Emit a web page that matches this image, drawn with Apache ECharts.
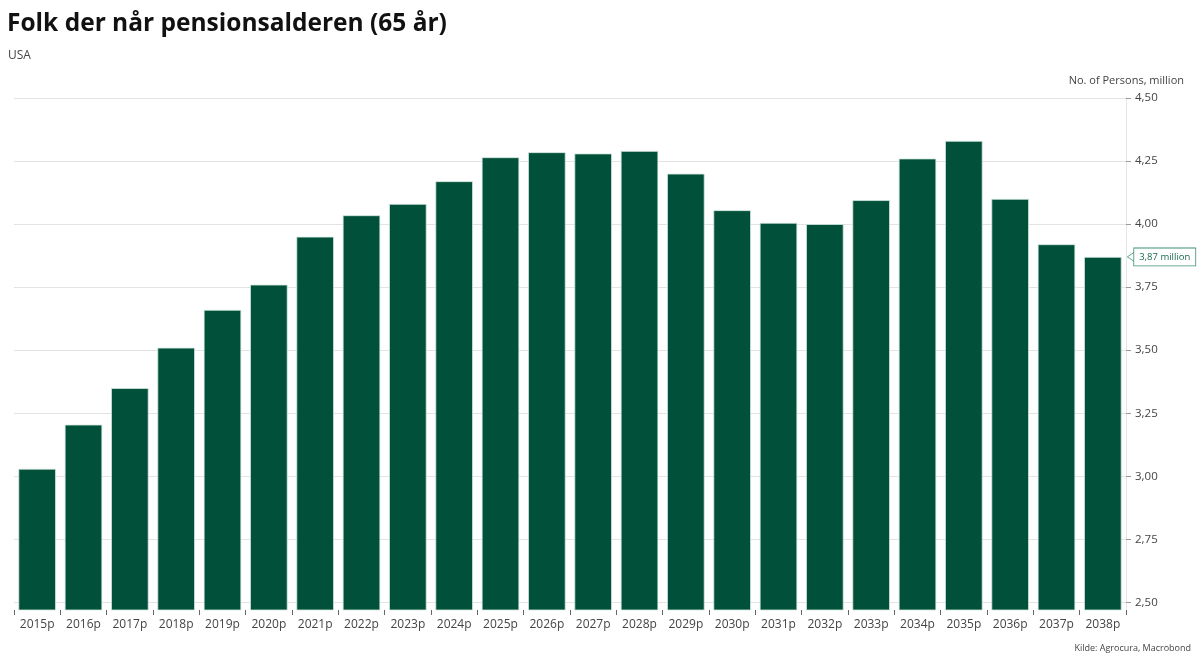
<!DOCTYPE html>
<html>
<head>
<meta charset="utf-8">
<script src="https://cdn.jsdelivr.net/npm/echarts@6/dist/echarts.min.js"></script>
<style>
html,body{margin:0;padding:0;background:#fff;}
#chart{width:1200px;height:662px;}
</style>
</head>
<body>
<div id="chart"></div>
<script>
const categories = ['2015p','2016p','2017p','2018p','2019p','2020p','2021p','2022p','2023p','2024p','2025p','2026p','2027p','2028p','2029p','2030p','2031p','2032p','2033p','2034p','2035p','2036p','2037p','2038p'];
const persons = [3.03,3.205,3.35,3.51,3.66,3.76,3.95,4.035,4.08,4.17,4.265,4.285,4.28,4.29,4.20,4.055,4.005,4.00,4.095,4.26,4.33,4.10,3.92,3.87];
const yTicks = [2.50,2.75,3.00,3.25,3.50,3.75,4.00,4.25,4.50];

const FONT = '"Open Sans", "Noto Sans", sans-serif';
const GREEN = '#00503a';
const fmt = v => v.toFixed(2).replace('.', ',');
const lastIdx = persons.length - 1;

const chart = echarts.init(document.getElementById('chart'), null, {renderer: 'canvas'});
chart.setOption({
  animation: false,
  backgroundColor: '#fff',
  title: [
    {text: 'Folk der når pensionsalderen (65 år)', left: 2, top: 7,
     textStyle: {fontFamily: FONT, fontSize: 24.5, fontWeight: 'bold', color: '#111'}},
    {text: 'USA', left: 3, top: 45,
     textStyle: {fontFamily: FONT, fontSize: 12, fontWeight: 'normal', color: '#444'}},
    {text: 'No. of Persons, million', right: 11, top: 70,
     textStyle: {fontFamily: FONT, fontSize: 11, fontWeight: 'normal', color: '#444'}},
    {text: 'Kilde: Agrocura, Macrobond', right: 4, top: 639,
     textStyle: {fontFamily: FONT, fontSize: 9, fontWeight: 'normal', color: '#444'}}
  ],
  grid: {left: 14, right: 74, top: 98, bottom: 52, containLabel: false},
  xAxis: {
    type: 'category',
    data: categories,
    boundaryGap: true,
    axisLine: {show: false},
    axisTick: {show: true, interval: 0, length: 5, lineStyle: {color: '#666'}},
    axisLabel: {interval: 0, margin: 9, fontFamily: FONT, fontSize: 12, color: '#444'}
  },
  yAxis: {
    type: 'value',
    position: 'right',
    min: 2.47,
    max: 4.5,
    axisLine: {show: true, lineStyle: {color: '#e6e6e6'}},
    axisTick: {show: true, length: 5, lineStyle: {color: '#999'}, customValues: yTicks},
    axisLabel: {margin: 9, fontFamily: FONT, fontSize: 11.5, color: '#444',
                customValues: yTicks, formatter: v => fmt(v)},
    splitLine: {show: true, lineStyle: {color: '#e3e3e3', width: 1}}
  },
  series: [{
    type: 'bar',
    data: persons,
    barCategoryGap: '19%',
    itemStyle: {color: GREEN, borderColor: '#d3e8de', borderWidth: 0.8},
    markPoint: {
      silent: true,
      data: [{
        coord: [lastIdx, persons[lastIdx]],
        symbol: 'path://M9,0 L0,6 L9,12 Z',
        symbolSize: [9, 12],
        symbolKeepAspect: false,
        symbolOffset: [29, 0],
        itemStyle: {color: '#fff', borderColor: '#3a9070', borderWidth: 0.8},
        label: {
          show: true, position: 'right', distance: -2.5,
          formatter: () => fmt(persons[lastIdx]) + ' million',
          backgroundColor: '#fff', borderColor: '#3a9070', borderWidth: 0.8,
          padding: [4, 5, 3, 5],
          fontFamily: FONT, fontSize: 9.5, color: '#1d6b4c'
        }
      }]
    }
  }]
});
</script>
</body>
</html>
